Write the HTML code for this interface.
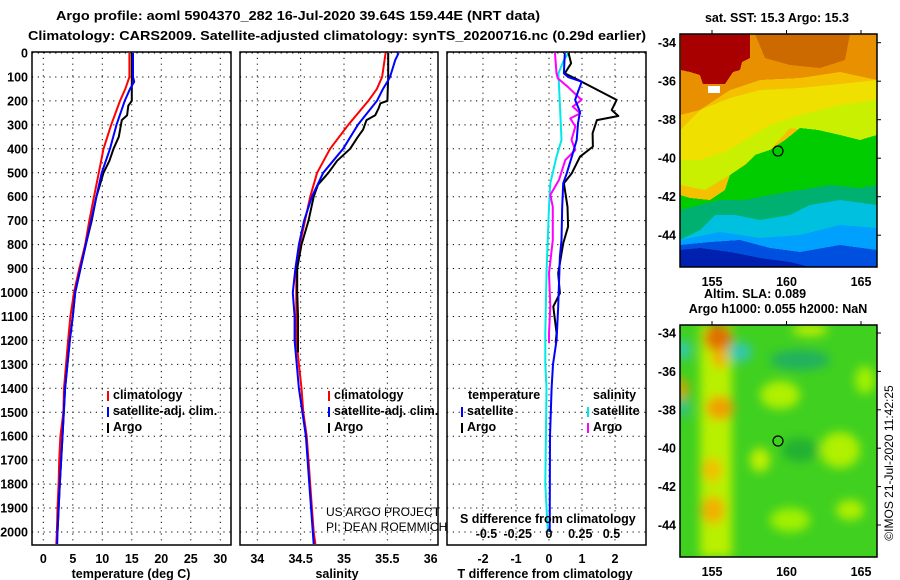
<!DOCTYPE html>
<html><head><meta charset="utf-8">
<style>
html,body{margin:0;padding:0;background:#fff;}
svg{display:block;font-family:"Liberation Sans",Arial,sans-serif;}
.b{font-weight:bold;font-size:12.5px;}
.g{stroke:#000;stroke-width:1;stroke-dasharray:1.2,4.6;}
</style></head>
<body>
<svg id="chart" width="900" height="580" viewBox="0 0 900 580">
<defs>
  <clipPath id="c1"><rect x="32" y="52" width="199" height="493"/></clipPath>
  <clipPath id="c2"><rect x="240" y="52" width="198" height="493"/></clipPath>
  <clipPath id="c3"><rect x="447" y="52" width="199" height="493"/></clipPath>
  <clipPath id="m1"><rect x="680" y="34" width="197" height="233"/></clipPath>
  <clipPath id="m2"><rect x="680" y="325" width="197" height="232"/></clipPath>
  <filter id="bl" x="-50%" y="-50%" width="200%" height="200%"><feGaussianBlur stdDeviation="5"/></filter>
</defs>
<rect width="900" height="580" fill="#fff"/>
<text class="b" x="56" y="20" textLength="484" lengthAdjust="spacingAndGlyphs">Argo profile: aoml 5904370_282 16-Jul-2020 39.64S 159.44E (NRT data)</text>
<text class="b" x="28" y="40" textLength="618" lengthAdjust="spacingAndGlyphs">Climatology: CARS2009. Satellite-adjusted climatology: synTS_20200716.nc (0.29d earlier)</text>

<g id="p1"></g>
<g id="p2"></g>
<g id="p3"></g>

<!-- Map 1 SST -->
<g clip-path="url(#m1)" shape-rendering="crispEdges">
  <rect x="680" y="34" width="197" height="233" fill="#f5c000"/>
  <polygon points="680,34 877,34 877,80 840,72 800,78 760,80 730,90 700,110 680,115" fill="#e89000"/>
  <polygon points="755,34 850,34 845,60 820,68 790,65 765,58" fill="#cc6a00"/>
  <polygon points="681,34 750,34 750,58 742,62 740,70 733,72 725,84 703,84 700,75 690,72 681,70" fill="#a80000"/>
  <rect x="708" y="86" width="12" height="7" fill="#fff"/>
  <polygon points="700,110 730,98 760,90 800,88 840,84 877,80 877,100 860,110 830,115 800,125 770,135 745,150 725,160 700,165 680,160 680,130" fill="#f0e000"/>
  <polygon points="680,160 700,160 725,152 745,140 770,125 800,115 840,105 877,100 877,140 850,140 820,132 790,128 770,150 750,160 730,175 705,190 680,185" fill="#c8f000"/>
  <polygon points="877,135 860,140 840,135 818,130 800,128 785,140 770,150 755,155 745,165 730,175 725,190 710,200 690,198 680,195 680,267 877,267" fill="#00cc00"/>
  <polygon points="680,210 700,205 720,200 745,200 770,195 800,190 830,185 860,188 877,185 877,267 680,267" fill="#00b070"/>
  <polygon points="700,230 715,215 735,215 760,220 790,215 810,205 840,200 877,205 877,267 680,267 680,240" fill="#00c0e0"/>
  <polygon points="680,240 720,232 760,238 800,235 840,225 877,228 877,267 680,267" fill="#00a0ff"/>
  <polygon points="680,245 710,242 740,240 770,248 800,252 840,245 877,250 877,267 680,267" fill="#0050e0"/>
  <polygon points="680,250 700,248 730,252 760,258 790,262 810,267 680,267" fill="#0020b0"/>
</g>
<rect x="680" y="34" width="197" height="233" fill="none" stroke="#000" stroke-width="1.5"/>
<circle cx="778" cy="151" r="5" fill="none" stroke="#000" stroke-width="1.2"/>

<!-- Map 2 SLA -->
<g clip-path="url(#m2)">
  <rect x="680" y="325" width="197" height="232" fill="#40d020"/>
  <g filter="url(#bl)">
    <rect x="700" y="325" width="32" height="232" fill="#b8f000"/>
    <ellipse cx="718" cy="338" rx="14" ry="14" fill="#e07000"/>
    <ellipse cx="720" cy="358" rx="8" ry="10" fill="#f0b000"/>
    <ellipse cx="720" cy="408" rx="14" ry="12" fill="#f0a000"/>
    <ellipse cx="713" cy="510" rx="12" ry="14" fill="#f0b000"/>
    <ellipse cx="712" cy="470" rx="10" ry="12" fill="#f0c000"/>
    <ellipse cx="682" cy="390" rx="6" ry="12" fill="#e0a000"/>
    <ellipse cx="684" cy="350" rx="6" ry="10" fill="#30c8c8"/>
    <ellipse cx="740" cy="352" rx="12" ry="10" fill="#30c8b0"/>
    <ellipse cx="684" cy="408" rx="5" ry="10" fill="#30c0a0"/>
    <ellipse cx="800" cy="360" rx="30" ry="10" fill="#20b060"/>
    <ellipse cx="810" cy="330" rx="18" ry="6" fill="#c0f000"/>
    <ellipse cx="780" cy="395" rx="20" ry="14" fill="#b0f000"/>
    <ellipse cx="840" cy="450" rx="20" ry="18" fill="#b0f000"/>
    <ellipse cx="760" cy="460" rx="10" ry="12" fill="#c0f000"/>
    <ellipse cx="790" cy="520" rx="20" ry="12" fill="#a0f000"/>
    <ellipse cx="850" cy="510" rx="14" ry="10" fill="#b0f000"/>
    <ellipse cx="865" cy="380" rx="10" ry="14" fill="#a0f000"/>
    <ellipse cx="800" cy="450" rx="18" ry="12" fill="#20b030"/>
  </g>
</g>
<rect x="680" y="325" width="197" height="232" fill="none" stroke="#000" stroke-width="1.5"/>
<circle cx="778" cy="441" r="5" fill="#40d020" stroke="#000" stroke-width="1.2"/>

<text class="b" x="777" y="22" text-anchor="middle">sat. SST: 15.3 Argo: 15.3</text>
<text class="b" x="755" y="298" text-anchor="middle">Altim. SLA: 0.089</text>
<text class="b" x="778" y="313" text-anchor="middle">Argo h1000: 0.055 h2000: NaN</text>
<text x="893" y="463" font-size="12" text-anchor="middle" transform="rotate(-90 893 463)">©IMOS 21-Jul-2020 11:42:25</text>
<g id="maxes"></g>

<script>
// ---- data (depth in dbar) ----
const climDepth = [0,100,150,200,300,400,500,600,700,800,900,1000,1100,1200,1400,1500,1600,1700,1800,1900,2000,2050];
const climTemp  = [14.6,14.6,13.9,13.0,11.5,10.2,9.4,8.6,7.8,7.1,6.1,5.2,4.6,4.2,3.5,3.4,2.9,2.7,2.6,2.4,2.3,2.2];
const climSal   = [35.48,35.44,35.38,35.28,35.05,34.84,34.69,34.61,34.55,34.49,34.45,34.45,34.45,34.45,34.51,34.53,34.57,34.59,34.61,34.63,34.65,34.67];
const satDepth  = [0,30,100,120,150,200,300,400,500,600,700,800,900,1000,1100,1200,1400,1600,1800,2000,2050];
const satTemp   = [15.2,15.2,15.2,15.4,14.7,13.8,12.4,11.3,9.9,9.0,8.1,7.2,6.3,5.4,5.0,4.5,3.7,3.25,2.8,2.4,2.35];
const satSal    = [35.63,35.59,35.53,35.5,35.45,35.38,35.16,34.99,34.76,34.63,34.54,34.48,34.44,34.41,34.43,34.43,34.48,34.56,34.60,34.64,34.65];
const argoTDepth = [0,150,200,220,260,280,350,400,450,500,600,700,800,900,1000,1100,1200,1400,1600,1800,2000];
const argoTemp   = [15.0,15.0,15.0,14.4,14.2,13.3,12.8,11.9,11.2,10.2,9.0,8.2,7.2,6.3,5.4,5.0,4.5,3.7,3.25,2.8,2.4];
const argoSDepth = [0,100,200,210,230,260,280,320,350,400,450,500,550,600,700,800,900,1000,1100,1200,1250];
const argoSal    = [35.51,35.51,35.50,35.42,35.40,35.36,35.26,35.22,35.16,35.07,34.92,34.82,34.70,34.65,34.59,34.51,34.46,34.46,34.47,34.47,34.47];
// differences from climatology
const dTsatDepth = [0,85,100,120,196,245,294,363,433,502,544,642,781,850,1059,1198,1300,1400,1600,2000];
const dTsat      = [0.48,0.45,0.58,0.99,0.79,0.94,0.88,0.84,0.69,0.54,0.43,0.40,0.38,0.33,0.28,0.23,0.12,0.08,0.03,0.02];
const dTargoDepth = [0,43,85,120,196,238,263,280,335,391,433,502,544,642,725,795,920,1003,1059,1170,1210];
const dTargo      = [0.59,0.67,0.48,0.99,2.05,1.9,2.1,1.45,1.32,1.33,0.94,0.69,0.45,0.56,0.58,0.43,0.28,0.33,0.13,0.23,0.2];
const dSsatDepth = [0,29,85,224,363,433,544,642,920,1170,1295,1400,1800,2000];
const dSsat      = [0.155,0.12,0.075,0.088,0.10,0.06,0.01,0.0,-0.02,-0.03,-0.03,-0.02,-0.03,-0.01];
const dSargoDepth = [0,85,106,141,196,224,252,273,307,363,405,447,530,593,642,781,920,1059,1170,1210];
const dSargo      = [0.048,0.06,0.07,0.15,0.26,0.19,0.25,0.17,0.21,0.18,0.21,0.13,0.08,0.01,0.03,0.03,0.0,0.01,0.0,0.0];
// ticks
const depthTicks = [0,100,200,300,400,500,600,700,800,900,1000,1100,1200,1300,1400,1500,1600,1700,1800,1900,2000];
const tempTicks = [0,5,10,15,20,25,30];
const salTicks = [34,34.5,35,35.5,36];
const salTickLabels = ['34','34.5','35','35.5','36'];
const dTTicks = [-2,-1,0,1,2];
const dSTicks = [-0.5,-0.25,0,0.25,0.5];
const dSTickLabels = ['-0.5','-0.25','0','0.25','0.5'];
const latTicks = [-34,-36,-38,-40,-42,-44];
const lonTicks = [155,160,165];

// ---- scales ----
const yD = d => 53 + d*0.2395;
const xT = t => 43.3 + t*5.9;
const xS = s => 257.3 + (s-34)*86.7;
const xDT = v => 549 + v*33;
const xDS = v => 549 + v*125;
const NS='http://www.w3.org/2000/svg';
function mk(tag, parent, attrs){const e=document.createElementNS(NS,tag);for(const k in attrs)e.setAttribute(k,attrs[k]);parent.appendChild(e);return e;}
function txt(parent,x,y,s,cls,anchor){const t=mk('text',parent,{x:x,y:y,'text-anchor':anchor||'start'});if(cls)t.setAttribute('class',cls);t.textContent=s;return t;}

function panel(g, x0, x1, xTicksPx, clip){
  depthTicks.forEach(d=>{const l=mk('line',g,{x1:x0,x2:x1,y1:yD(d),y2:yD(d),class:'g'});
    
    });
  xTicksPx.forEach(x=>{const l=mk('line',g,{x1:x,x2:x,y1:52,y2:545,class:'g'});
    
    });
  const r=mk('rect',g,{x:x0,y:52,width:x1-x0,height:493,fill:'none',stroke:'#000','stroke-width':1.5});
  
  
}
function series(g, xs, ds, sx, color, clip, name){
  const pts = xs.map((v,i)=>sx(v).toFixed(1)+','+yD(ds[i]).toFixed(1)).join(' ');
  const p=mk('polyline',g,{points:pts,fill:'none',stroke:color,'stroke-width':2,'clip-path':'url(#'+clip+')','stroke-linejoin':'round'});
  
  
}
function legend(g,x,y,color,label,bold){
  const m=mk('line',g,{x1:x,x2:x,y1:y-8,y2:y+2,stroke:color,'stroke-width':2});
  
  
  const t=txt(g,x+5,y,label,'b');
  
  
}

// Panel 1
const p1=document.getElementById('p1');
panel(p1,32,231,tempTicks.map(xT),'c1');
depthTicks.forEach(d=>{const t=txt(p1,28,yD(d)+4.5,String(d),'b','end');
  
  });
tempTicks.forEach(v=>{const t=txt(p1,xT(v),563,String(v),'b','middle');
  
  });
{const t=txt(p1,131,578,'temperature (deg C)','b','middle');

}
series(p1,climTemp,climDepth,xT,'#ff0000','c1','clim-temperature-line');
series(p1,argoTemp,argoTDepth,xT,'#000','c1','argo-temperature-line');
series(p1,satTemp,satDepth,xT,'#0000ff','c1','sat-temperature-line');
legend(p1,108,399,'#ff0000','climatology');
legend(p1,108,415,'#0000ff','satellite-adj. clim.');
legend(p1,108,431,'#000','Argo');

// Panel 2
const p2=document.getElementById('p2');
panel(p2,240,438,salTicks.map(xS),'c2');
salTicks.forEach((v,i)=>{const t=txt(p2,xS(v),563,salTickLabels[i],'b','middle');
  
  });
{const t=txt(p2,337,578,'salinity','b','middle');

}
series(p2,climSal,climDepth,xS,'#ff0000','c2','clim-salinity-line');
series(p2,argoSal,argoSDepth,xS,'#000','c2','argo-salinity-line');
series(p2,satSal,satDepth,xS,'#0000ff','c2','sat-salinity-line');
legend(p2,329,399,'#ff0000','climatology');
legend(p2,329,415,'#0000ff','satellite-adj. clim.');
legend(p2,329,431,'#000','Argo');
{const t=txt(p2,326,516,'US ARGO PROJECT',null,'start');t.setAttribute('font-size','12');


const t2=txt(p2,326,531,'PI: DEAN ROEMMICH',null,'start');t2.setAttribute('font-size','12');

}

// Panel 3
const p3=document.getElementById('p3');
panel(p3,447,646,dTTicks.map(xDT),'c3');
dTTicks.forEach(v=>{const t=txt(p3,xDT(v),563,String(v),'b','middle');
  
  });
{const t=txt(p3,545,578,'T difference from climatology','b','middle');

}
series(p3,dSsat,dSsatDepth,xDS,'#00e8e8','c3','sat-salinity-diff-line');
series(p3,dSargo,dSargoDepth,xDS,'#ff00ff','c3','argo-salinity-diff-line');
series(p3,dTargo,dTargoDepth,xDT,'#000','c3','argo-temperature-diff-line');
series(p3,dTsat,dTsatDepth,xDT,'#0000ff','c3','sat-temperature-diff-line');
{const t=txt(p3,468,399,'temperature','b');
const t2=txt(p3,593,399,'salinity','b');}
legend(p3,462,415,'#0000ff','satellite');
legend(p3,462,431,'#000','Argo');
legend(p3,588,415,'#00e8e8','satellite');
legend(p3,588,431,'#ff00ff','Argo');
{const t=txt(p3,460,523,'S difference from climatology','b');

}
dSTicks.forEach((v,i)=>{const t=txt(p3,xDS(v),538,dSTickLabels[i],'b','middle');
  
  });

// Map axes
const ma=document.getElementById('maxes');
const latY1 = l => 42.7 + (-34-l)*19.25;
const latY2 = l => 333 + (-34-l)*19.2;
const lonX = l => 712 + (l-155)*14.9;
latTicks.forEach(l=>{
  [[latY1(l)],[latY2(l)]].forEach(([y])=>{
    const t=txt(ma,676,y+4.5,String(l),'b','end');
    
    
    mk('line',ma,{x1:877,x2:881,y1:y,y2:y,stroke:'#000'});
  });
});
lonTicks.forEach(l=>{
  [286,576].forEach(y=>{
    const t=txt(ma,lonX(l),y,String(l),'b','middle');
    
    
  });
  mk('line',ma,{x1:lonX(l),x2:lonX(l),y1:30,y2:34,stroke:'#000'});
  mk('line',ma,{x1:lonX(l),x2:lonX(l),y1:321,y2:325,stroke:'#000'});
});
</script>
</svg>
</body></html>
